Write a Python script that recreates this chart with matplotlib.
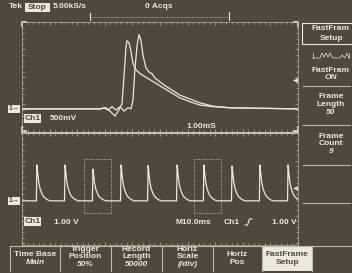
import numpy as np
import matplotlib
matplotlib.use("Agg")
import matplotlib.pyplot as plt
from matplotlib.patches import Rectangle

# ---- dados lidos da tela ----
# painel de cima: zoom (1.00 ms/div, 500 mV/div)
zoom_t_a = [0, 2.83, 3.04, 3.19, 3.37, 3.51, 3.62, 3.70, 3.77, 3.80, 3.88, 3.95, 4.02, 4.09,
            4.28, 4.64, 5.00, 5.36, 5.72, 6.09, 6.45, 6.92, 7.54, 10]
zoom_v_a = [0, 0, 0.02, -0.04, -0.13, -0.02, 0.09, 0.62, 1.13, 1.24, 1.20, 1.04, 0.84, 0.73,
            0.64, 0.53, 0.42, 0.31, 0.20, 0.13, 0.07, 0.04, 0.02, 0]
zoom_t_b = [0, 2.83, 2.97, 3.12, 3.26, 3.41, 3.55, 3.70, 3.84, 3.95, 4.02, 4.09, 4.17, 4.24,
            4.31, 4.38, 4.49, 4.60, 4.71, 4.82, 5.00, 5.25, 5.54, 5.72, 6.09, 6.45, 6.92, 7.54, 10]
zoom_v_b = [0, 0, 0.02, -0.02, 0.04, -0.02, 0.04, -0.04, 0.02, 0, 0.16, 0.71, 1.16, 1.35,
            1.25, 0.98, 0.75, 0.67, 0.64, 0.56, 0.49, 0.40, 0.31, 0.25, 0.18, 0.11, 0.05, 0.02, 0]

# painel de baixo: aquisicao principal (10.0 ms/div, 1.00 V/div)
pulso_t0 = [5.4, 15.6, 25.7, 35.9, 45.7, 56.2, 65.9, 76.1, 86.2, 96.4]
pulso_amp = [1.30, 1.30, 1.15, 1.30, 1.28, 1.30, 1.30, 1.26, 1.30, 1.30]
forma_dt = [-0.2, 0.0, 0.2, 0.6, 1.1, 1.8, 2.4, 3.6, 4.7]
forma_rel = [0, 1.0, 0.85, 0.55, 0.35, 0.20, 0.12, 0.04, 0]

menu_lateral = [("FastFram", "Setup", None), ("FastFram", "ON", None),
                ("Frame", "Length", "50"), ("Frame", "Count", "9")]
botoes = [("Time Base", "Main", None), ("Trigger", "Position", "50%"),
          ("Record", "Length", "50000"), ("Horiz", "Scale", "(/div)"),
          ("Horiz", "Pos", None), ("FastFrame", "Setup", None)]

FUNDO = "#4f493d"
CLARO = "#ece8dc"
FONTE = "Liberation Sans"
plt.rcParams["font.family"] = [FONTE, "DejaVu Sans"]

fig = plt.figure(figsize=(3.52, 2.73), dpi=100)
fig.patch.set_facecolor(FUNDO)

ov = fig.add_axes([0, 0, 1, 1])
ov.set_xlim(0, 352)
ov.set_ylim(273, 0)
ov.axis("off")
ov.set_facecolor(FUNDO)


def txt(x, y, s, size=6, ha="left", cor=CLARO, weight="bold", **kw):
    ov.text(x, y, s, fontsize=size, ha=ha, va="center", color=cor, weight=weight, **kw)


def caixa_branca(x, y, w, h):
    ov.add_patch(Rectangle((x, y), w, h, facecolor=CLARO, edgecolor="none"))


# barra superior
txt(9, 7, "Tek")
caixa_branca(25, 3, 25, 9)
txt(37.5, 7.5, "Stop", ha="center", cor=FUNDO)
txt(53, 7, "5.00kS/s")
txt(145, 7, "0 Acqs")
ov.plot([90, 229], [16.5, 16.5], color="#b8b2a2", lw=0.6, ls=(0, (1, 1)))
ov.plot([90, 90], [13, 20], color=CLARO, lw=0.8)
ov.plot([229, 229], [12, 20], color=CLARO, lw=0.8)


def painel(y0, y1, ylim, ytop_div):
    ax = fig.add_axes([22 / 352, 1 - y1 / 273, 276 / 352, (y1 - y0) / 273])
    ax.set_facecolor("none")
    ax.set_xlim(0, 10)
    ax.set_ylim(*ylim)
    for s in ax.spines.values():
        s.set_color("#bcb5a5")
        s.set_linewidth(0.6)
        s.set_linestyle((0, (1, 1.5)))
    ax.set_xticks(np.arange(0, 10.01, 1))
    ax.set_xticks(np.arange(0, 10.01, 0.2), minor=True)
    ax.set_yticks(np.arange(ylim[1], ylim[0] - 0.01, -ytop_div))
    ax.set_yticks(np.arange(ylim[1], ylim[0] - 0.01, -ytop_div / 5), minor=True)
    ax.tick_params(which="both", direction="in", colors="#bcb5a5", top=True, right=True,
                   labelbottom=False, labelleft=False, width=0.5)
    ax.tick_params(which="major", length=2.5)
    ax.tick_params(which="minor", length=1.2)
    return ax


# painel de zoom
ax1 = painel(22, 132, (-0.42, 1.58), 0.5)
ax1.plot(zoom_t_a, zoom_v_a, color=CLARO, lw=0.9)
ax1.plot(zoom_t_b, zoom_v_b, color=CLARO, lw=0.9)

# painel principal
ax2 = painel(133, 245, (-1.6, 2.46), 1.0)
ax2.set_xlim(0, 100)
ax2.set_xticks(np.arange(0, 100.1, 10))
ax2.set_xticks(np.arange(0, 100.1, 2), minor=True)
tt, vv = [0.0], [0.0]
for t0, a in zip(pulso_t0, pulso_amp):
    tt += [t0 + d for d in forma_dt]
    vv += [a * r for r in forma_rel]
tt.append(100.0)
vv.append(0.0)
ax2.plot(tt, vv, color=CLARO, lw=0.9)
# janelas de frame (quadros tracejados)
for t_ini in (22.3, 62.2):
    ax2.add_patch(Rectangle((t_ini, -0.45), 9.8, 1.95, fill=False, edgecolor="#bdb5a2",
                            lw=0.6, ls=(0, (1.5, 1.5))))

# linha dupla entre paineis e cantos
ov.plot([22, 298], [132.5, 132.5], color=CLARO, lw=1.3)
for (x, y, dx, dy) in [(22, 22, 4, 4), (298, 22, -4, 4), (298, 131, -4, -4), (22, 131, 4, -4)]:
    ov.plot([x + dx, x, x], [y, y, y + dy], color=CLARO, lw=1.2)

# marcadores de terra e trigger
for y in (109, 201):
    caixa_branca(8, y - 4, 12, 8)
    txt(14, y, "1\u2192", size=5, ha="center", cor=FUNDO)
for y in (80, 188):
    ov.plot([294.5], [y], marker="<", ms=3.5, color=CLARO, mec="none")

# legendas dos canais
caixa_branca(24, 114, 17, 9)
txt(32.5, 118.5, "Ch1", ha="center", cor=FUNDO)
txt(50, 119, "500mV")
txt(186, 126, "1.00mS")
caixa_branca(24, 217, 17, 9)
txt(32.5, 221.5, "Ch1", ha="center", cor=FUNDO)
txt(54, 222, "1.00 V")
txt(176, 222, "M10.0ms")
txt(224, 222, "Ch1")
ov.plot([245, 247.5, 249.5, 252], [225, 225, 219, 219], color=CLARO, lw=0.8)
txt(297, 222, "1.00 V", ha="right")

# menu lateral
ov.add_patch(Rectangle((302, 23), 52, 21, fill=False, edgecolor=CLARO, lw=0.8))
for yy in (86, 125, 165, 203):
    ov.plot([303, 350], [yy, yy], color="#bfb8a8", lw=0.8)
ov.plot([313, 320, 322, 324, 326, 328, 330, 332, 334, 340, 342, 345, 347, 349],
        [58, 58, 53, 57, 53, 57, 53, 57, 58, 58, 55, 58, 53, 58], color=CLARO, lw=0.5)
ov.plot([313, 313], [53, 58], color=CLARO, lw=0.5)
ov.plot([349, 349], [53, 58], color=CLARO, lw=0.5)
ys = [(28.5, 38.5, None), (70, 77.5, None), (97, 104.5, 112), (136, 143.5, 151.5)]
for (l1, l2, l3), (y1, y2, y3) in zip(menu_lateral, ys):
    txt(331, y1, l1, ha="center")
    italico = l1 == "FastFram" and l2 == "ON"
    txt(331, y2, l2, ha="center", style="italic" if italico else "normal")
    if l3:
        txt(331, y3, l3, ha="center", style="italic")

# barra de botoes
xs = [10, 60, 111, 162, 213, 262, 312]
ov.plot([10, 352], [246, 246], color="#bfb8a8", lw=0.8)
for x in xs:
    ov.plot([x, x], [246, 271], color="#bfb8a8", lw=0.8)
caixa_branca(263, 246.5, 49, 24)
for i, (l1, l2, l3) in enumerate(botoes):
    cx = (xs[i] + xs[i + 1]) / 2
    cor = FUNDO if i == 5 else CLARO
    if l3:
        txt(cx, 249.8, l1, ha="center", cor=cor)
        txt(cx, 257, l2, ha="center", cor=cor)
        txt(cx, 264.3, l3, ha="center", cor=cor, style="italic")
    else:
        txt(cx, 254, l1, ha="center", cor=cor)
        txt(cx, 262, l2, ha="center", cor=cor, style="italic" if i == 0 else "normal")

fig.savefig("out.png", dpi=100, facecolor=FUNDO)
